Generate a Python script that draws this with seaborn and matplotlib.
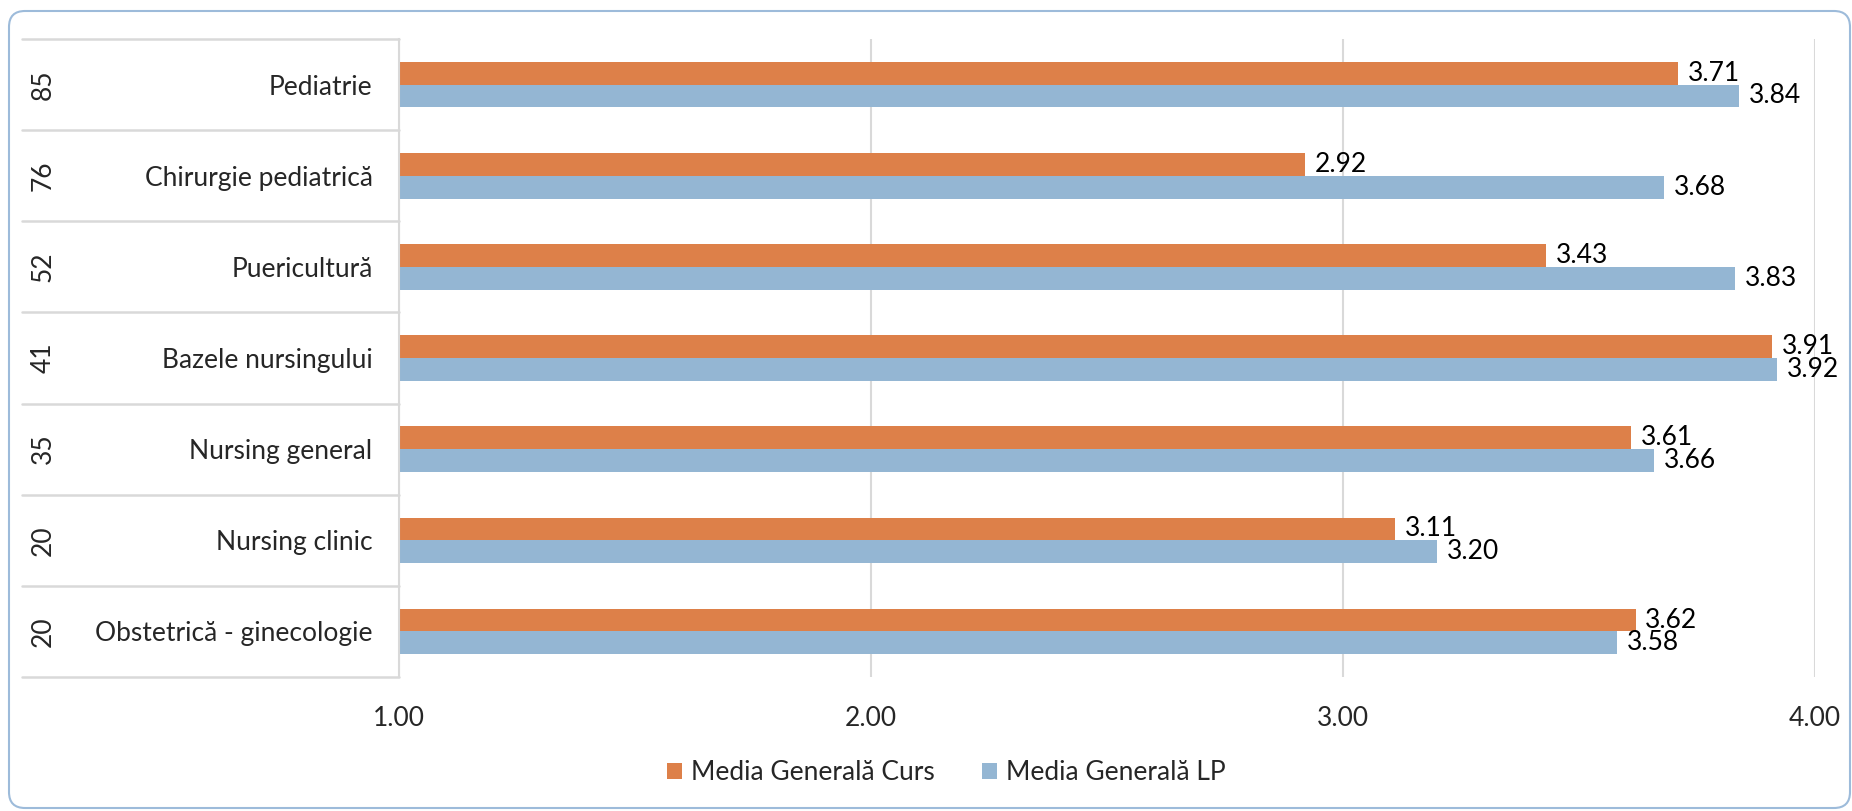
import pandas as pd
import matplotlib.pyplot as plt
import seaborn as sns
from matplotlib.patches import FancyBboxPatch
from matplotlib.lines import Line2D
from matplotlib.transforms import blended_transform_factory

# data
discipline = ["Pediatrie", "Chirurgie pediatrică", "Puericultură", "Bazele nursingului",
              "Nursing general", "Nursing clinic", "Obstetrică - ginecologie"]
nr_studenti = [85, 76, 52, 41, 35, 20, 20]
media_curs = [3.71, 2.92, 3.43, 3.91, 3.61, 3.11, 3.62]
media_lp = [3.84, 3.68, 3.83, 3.92, 3.66, 3.20, 3.58]
serii = ["Media Generală Curs", "Media Generală LP"]
x_ticks = [1, 2, 3, 4]

orange = "#DD8049"
blue = "#94B6D3"
grid_col = "#D9D9D9"

df = pd.DataFrame({
    "Disciplina": discipline * 2,
    "Media": media_curs + media_lp,
    "Serie": [serii[0]] * len(discipline) + [serii[1]] * len(discipline),
})

sns.set_style("white")
plt.rcParams["font.family"] = ["Lato", "DejaVu Sans"]
FS = 19

fig = plt.figure(figsize=(18.52, 8.11), dpi=100)
ax = fig.add_axes([0.2154, 0.1652, 0.7646, 0.7867])

sns.barplot(data=df, y="Disciplina", x="Media", hue="Serie", orient="h",
            palette=[orange, blue], width=0.5, saturation=1, ax=ax, linewidth=0)

for cont in ax.containers:
    ax.bar_label(cont, fmt="{:.2f}", padding=7, fontsize=FS, color="black")

ax.set_xlim(1, 4)
ax.set_ylim(6.5, -0.5)
ax.set_xticks(x_ticks)
ax.set_xticklabels([f"{t:.2f}" for t in x_ticks], fontsize=FS)
ax.set_yticks(range(len(discipline)))
ax.set_yticklabels(discipline, fontsize=FS)
ax.tick_params(axis="x", length=0, pad=21)
ax.tick_params(axis="y", length=0, pad=19)
ax.set_xlabel("")
ax.set_ylabel("")
ax.xaxis.grid(True, color=grid_col, lw=1.5)
ax.set_axisbelow(True)
for s in ["top", "right", "bottom"]:
    ax.spines[s].set_visible(False)
ax.spines["left"].set_color(grid_col)
ax.spines["left"].set_linewidth(1.5)

# table lines and counts on the left
tr = blended_transform_factory(fig.transFigure, ax.transData)
for k in range(len(discipline) + 1):
    y = k - 0.5
    fig.add_artist(Line2D([0.0119, 0.2154], [y, y], transform=tr, color=grid_col, lw=1.8))
for i, n in enumerate(nr_studenti):
    fig.text(0.0232, i, str(n), transform=tr, rotation=90, ha="center", va="center", fontsize=FS)

# legend
handles, labels = ax.get_legend_handles_labels()
ax.get_legend().remove()
fig.legend(handles, labels, loc="center", bbox_to_anchor=(0.511, 0.047), ncol=2,
           frameon=False, fontsize=FS, handlelength=0.55, handleheight=0.55,
           handletextpad=0.35, columnspacing=1.8)

# rounded border
border = FancyBboxPatch((0.09, 0.03), 18.41, 7.97, boxstyle="round,pad=0,rounding_size=0.16",
                        transform=fig.dpi_scale_trans, fill=False, edgecolor="#9DBBDA", lw=1.5)
fig.add_artist(border)

fig.savefig("out.png", dpi=100)
